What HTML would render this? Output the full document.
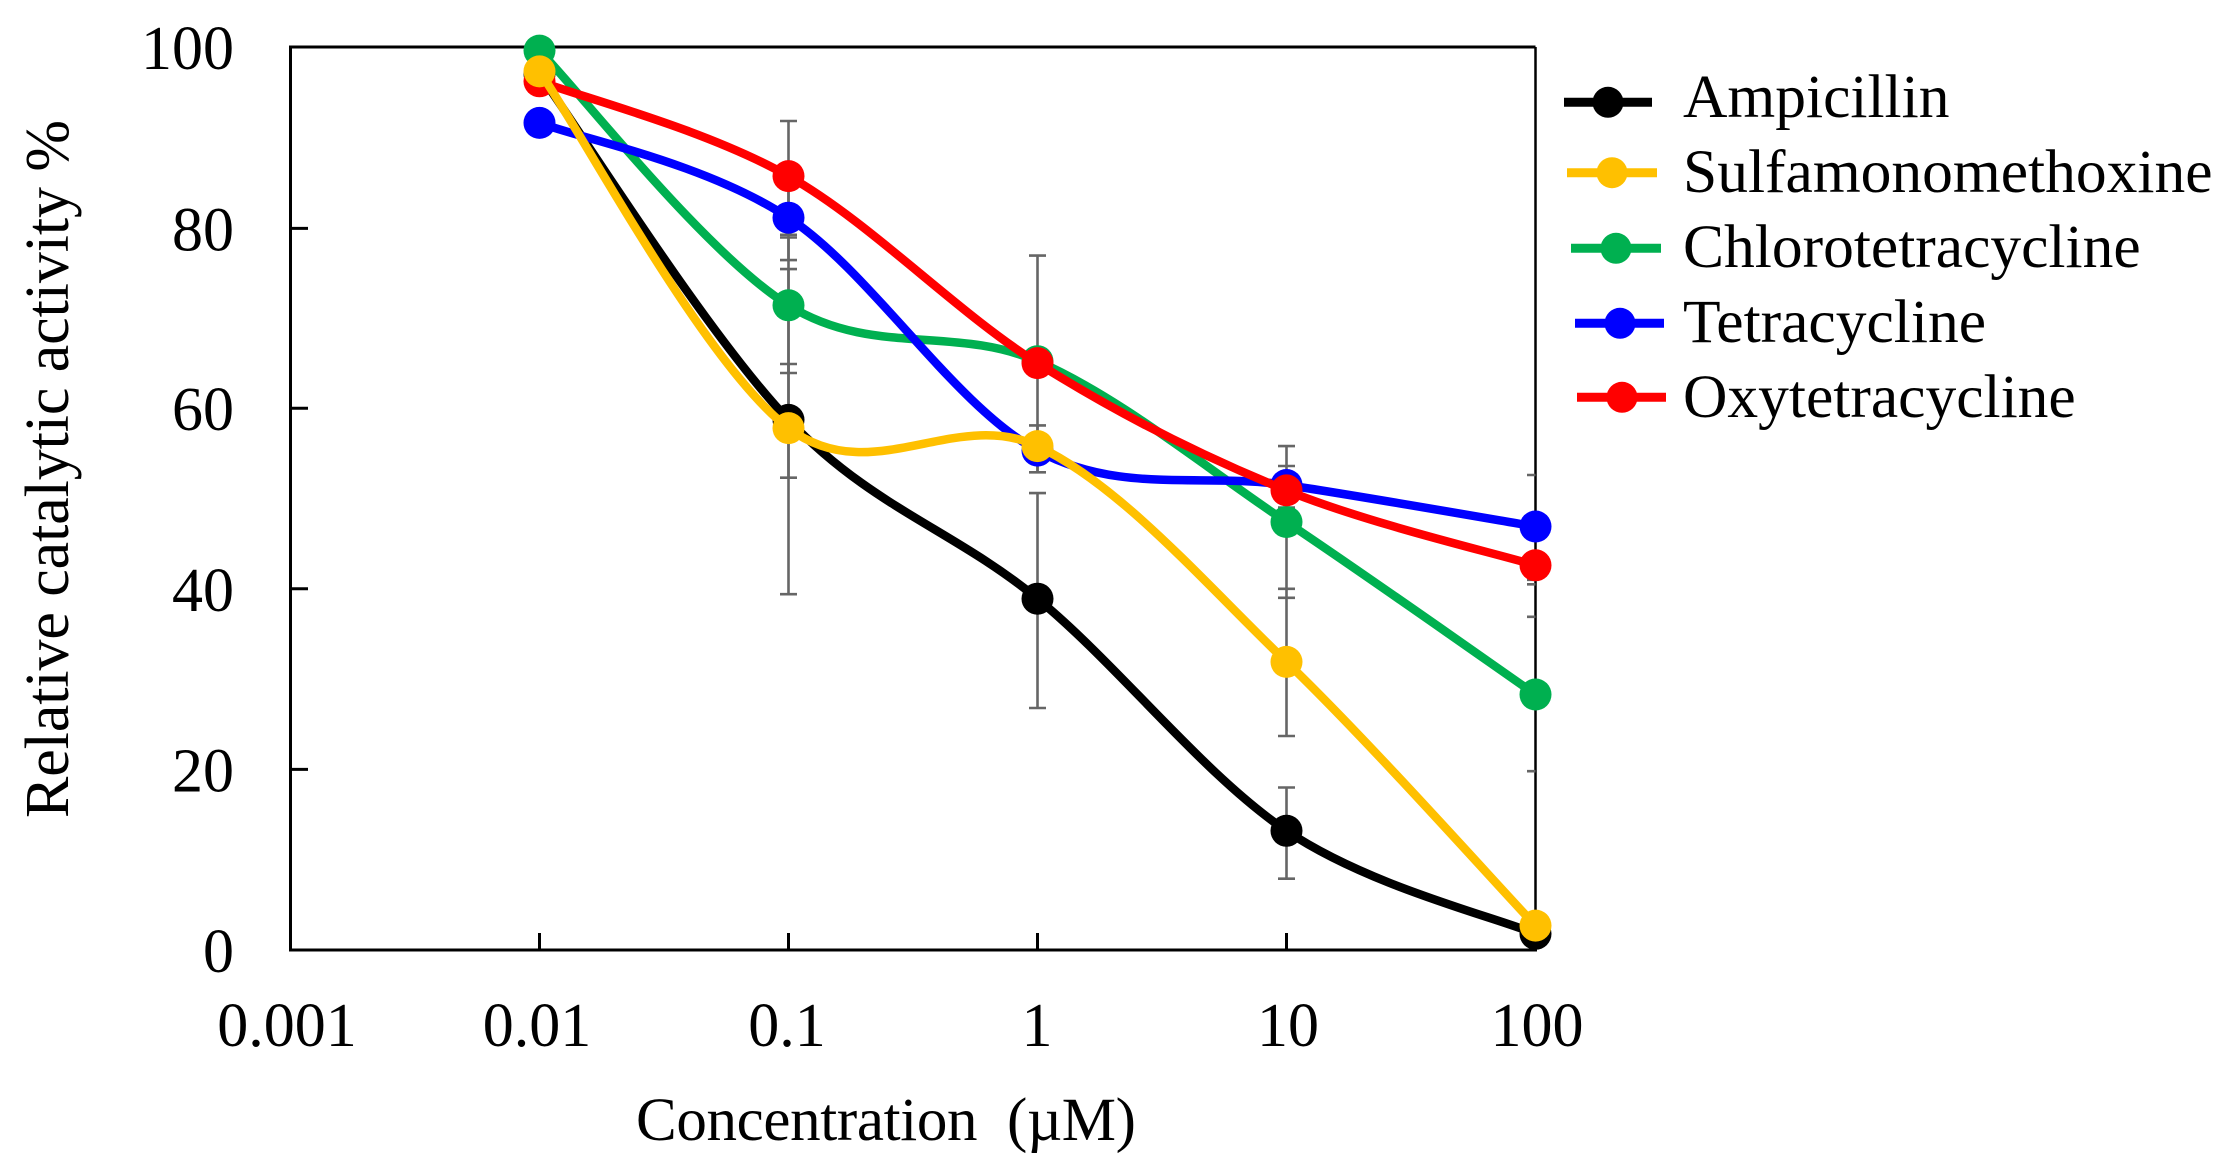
<!DOCTYPE html>
<html>
<head>
<meta charset="utf-8">
<style>
  html, body { margin: 0; padding: 0; background: #ffffff; }
  svg { display: block; }
  text { font-family: "Liberation Serif", "Times New Roman", serif; fill: #000; }
</style>
</head>
<body>
<svg width="2233" height="1175" viewBox="0 0 2233 1175" xmlns="http://www.w3.org/2000/svg">
  <rect x="0" y="0" width="2233" height="1175" fill="#ffffff"/>

  <!-- plot frame -->
  <line x1="290.5" y1="47" x2="1535.5" y2="47" stroke="#000" stroke-width="3"/>
  <line x1="1535.5" y1="47" x2="1535.5" y2="950" stroke="#000" stroke-width="2.5"/>
  <line x1="290.5" y1="45.5" x2="290.5" y2="951.5" stroke="#000" stroke-width="3"/>
  <line x1="289" y1="950" x2="1537" y2="950" stroke="#000" stroke-width="3"/>

  <!-- y ticks -->
  <g stroke="#000" stroke-width="3">
    <line x1="290.5" y1="228.4" x2="308" y2="228.4"/>
    <line x1="290.5" y1="408.2" x2="308" y2="408.2"/>
    <line x1="290.5" y1="588.8" x2="308" y2="588.8"/>
    <line x1="290.5" y1="769.4" x2="308" y2="769.4"/>
  </g>
  <!-- x ticks -->
  <g stroke="#000" stroke-width="3">
    <line x1="539.5" y1="950" x2="539.5" y2="933"/>
    <line x1="788.5" y1="950" x2="788.5" y2="933"/>
    <line x1="1037.5" y1="950" x2="1037.5" y2="933"/>
    <line x1="1286.5" y1="950" x2="1286.5" y2="933"/>
  </g>

  <!-- y tick labels -->
  <g font-size="62" text-anchor="end">
    <text x="234" y="69">100</text>
    <text x="234" y="250.4">80</text>
    <text x="234" y="430.2">60</text>
    <text x="234" y="610.8">40</text>
    <text x="234" y="791.4">20</text>
    <text x="234" y="972">0</text>
  </g>
  <!-- x tick labels -->
  <g font-size="62" text-anchor="middle">
    <text x="287" y="1046">0.001</text>
    <text x="537" y="1046">0.01</text>
    <text x="787" y="1046">0.1</text>
    <text x="1037" y="1046">1</text>
    <text x="1288" y="1046">10</text>
    <text x="1537" y="1046">100</text>
  </g>

  <!-- axis titles -->
  <text x="886" y="1140" font-size="61" text-anchor="middle" textLength="500" lengthAdjust="spacing">Concentration&#160; (µM)</text>
  <text transform="translate(68,469) rotate(-90)" x="0" y="0" font-size="62" text-anchor="middle" textLength="698" lengthAdjust="spacing">Relative catalytic activity %</text>

  <!-- error bars -->
  <g stroke="#666666" stroke-width="2.6" fill="none">
    <!-- x = 0.1 -->
    <path d="M788.5,121 V234.8 M780,121 H797 M780,234.8 H797"/>
    <path d="M788.5,175.2 V260.1 M780,175.2 H797 M780,260.1 H797"/>
    <path d="M788.5,237.5 V373 M780,237.5 H797 M780,373 H797"/>
    <path d="M788.5,364 V477.7 M780,364 H797 M780,477.7 H797"/>
    <path d="M788.5,269.1 V594.2 M780,269.1 H797 M780,594.2 H797"/>
    <!-- x = 1 -->
    <path d="M1037.5,255.6 V472.3 M1029,255.6 H1046 M1029,472.3 H1046"/>
    <path d="M1037.5,425.4 V472.3 M1029,425.4 H1046"/>
    <path d="M1037.5,493.1 V708 M1029,493.1 H1046 M1029,708 H1046"/>
    <!-- x = 10 -->
    <path d="M1278,446.1 H1295 M1278,597.8 H1295 M1286.5,446.1 V736"/>
    <path d="M1278,588.8 H1295 M1278,736 H1295"/>
    <path d="M1278,466 H1295 M1278,507.5 H1295"/>
    <path d="M1286.5,787.5 V878.7 M1278,787.5 H1295 M1278,878.7 H1295"/>
    <!-- x = 100 (half caps, clipped by frame) -->
    <path d="M1527,475 H1535.5 M1527,579.8 H1535.5 M1527,584.3 H1535.5 M1527,616.8 H1535.5 M1527,771.2 H1535.5"/>
  </g>

  <!-- series: draw order black, green, blue, red, yellow -->
  <g fill="none" stroke-width="8.5" stroke-linecap="round" stroke-linejoin="round">
    <path stroke="#000000" d="M539.5,74.1 C581,131.7 705.5,332.5 788.5,419.9 C871.5,507.4 954.5,530.3 1037.5,598.7 C1120.5,667.2 1203.5,775 1286.5,830.8 C1369.5,886.6 1494,916.6 1535.5,933.8"/>
  </g>
  <g fill="#000000">
    <circle cx="539.5" cy="74.1" r="16"/>
    <circle cx="788.5" cy="419.9" r="16"/>
    <circle cx="1037.5" cy="598.7" r="16"/>
    <circle cx="1286.5" cy="830.8" r="16"/>
    <circle cx="1535.5" cy="933.8" r="16"/>
  </g>

  <g fill="none" stroke-width="8.5" stroke-linecap="round" stroke-linejoin="round">
    <path stroke="#00B050" d="M539.5,50.6 C581,93.1 705.5,253.5 788.5,305.3 C871.5,357 954.5,325.1 1037.5,361.2 C1120.5,397.4 1203.5,466.4 1286.5,522 C1369.5,577.5 1494,665.7 1535.5,694.5"/>
  </g>
  <g fill="#00B050">
    <circle cx="539.5" cy="50.6" r="16"/>
    <circle cx="788.5" cy="305.3" r="16"/>
    <circle cx="1037.5" cy="361.2" r="16"/>
    <circle cx="1286.5" cy="522" r="16"/>
    <circle cx="1535.5" cy="694.5" r="16"/>
  </g>

  <g fill="none" stroke-width="8.5" stroke-linecap="round" stroke-linejoin="round">
    <path stroke="#0000FF" d="M539.5,122.9 C581,138.7 705.5,163 788.5,217.7 C871.5,272.3 954.5,406.1 1037.5,450.6 C1120.5,495.2 1203.5,472.3 1286.5,485 C1369.5,497.6 1494,519.6 1535.5,526.5"/>
  </g>
  <g fill="#0000FF">
    <circle cx="539.5" cy="122.9" r="16"/>
    <circle cx="788.5" cy="217.7" r="16"/>
    <circle cx="1037.5" cy="450.6" r="16"/>
    <circle cx="1286.5" cy="485" r="16"/>
    <circle cx="1535.5" cy="526.5" r="16"/>
  </g>

  <g fill="none" stroke-width="8.5" stroke-linecap="round" stroke-linejoin="round">
    <path stroke="#FF0000" d="M539.5,81.3 C581,97.1 705.5,129.2 788.5,176.1 C871.5,223.1 954.5,310.7 1037.5,363.1 C1120.5,415.4 1203.5,456.7 1286.5,490.4 C1369.5,524.1 1494,552.8 1535.5,565.3"/>
  </g>
  <g fill="#FF0000">
    <circle cx="539.5" cy="81.3" r="16"/>
    <circle cx="788.5" cy="176.1" r="16"/>
    <circle cx="1037.5" cy="363.1" r="16"/>
    <circle cx="1286.5" cy="490.4" r="16"/>
    <circle cx="1535.5" cy="565.3" r="16"/>
  </g>

  <g fill="none" stroke-width="8.5" stroke-linecap="round" stroke-linejoin="round">
    <path stroke="#FFC000" d="M539.5,71.4 C581,130.8 705.5,365.6 788.5,428.1 C871.5,490.5 954.5,407.1 1037.5,446.1 C1120.5,485.1 1203.5,582 1286.5,661.9 C1369.5,741.9 1494,881.7 1535.5,925.6"/>
  </g>
  <g fill="#FFC000">
    <circle cx="539.5" cy="71.4" r="16"/>
    <circle cx="788.5" cy="428.1" r="16"/>
    <circle cx="1037.5" cy="446.1" r="16"/>
    <circle cx="1286.5" cy="661.9" r="16"/>
    <circle cx="1535.5" cy="925.6" r="16"/>
  </g>

  <!-- legend -->
  <g stroke-width="9" fill="none">
    <line x1="1564" y1="102.3" x2="1652" y2="102.3" stroke="#000000"/>
    <line x1="1567" y1="172.7" x2="1657" y2="172.7" stroke="#FFC000"/>
    <line x1="1571" y1="248.3" x2="1661" y2="248.3" stroke="#00B050"/>
    <line x1="1575" y1="323.3" x2="1664" y2="323.3" stroke="#0000FF"/>
    <line x1="1577" y1="397.3" x2="1666" y2="397.3" stroke="#FF0000"/>
  </g>
  <circle cx="1608" cy="102.3" r="15.5" fill="#000000"/>
  <circle cx="1612" cy="172.7" r="15.5" fill="#FFC000"/>
  <circle cx="1616" cy="248.3" r="15.5" fill="#00B050"/>
  <circle cx="1620" cy="323.3" r="15.5" fill="#0000FF"/>
  <circle cx="1622" cy="397.3" r="15.5" fill="#FF0000"/>

  <g font-size="61.5">
    <text x="1683" y="117">Ampicillin</text>
    <text x="1683" y="192">Sulfamonomethoxine</text>
    <text x="1683" y="267">Chlorotetracycline</text>
    <text x="1683" y="342">Tetracycline</text>
    <text x="1683" y="417">Oxytetracycline</text>
  </g>
</svg>
</body>
</html>
